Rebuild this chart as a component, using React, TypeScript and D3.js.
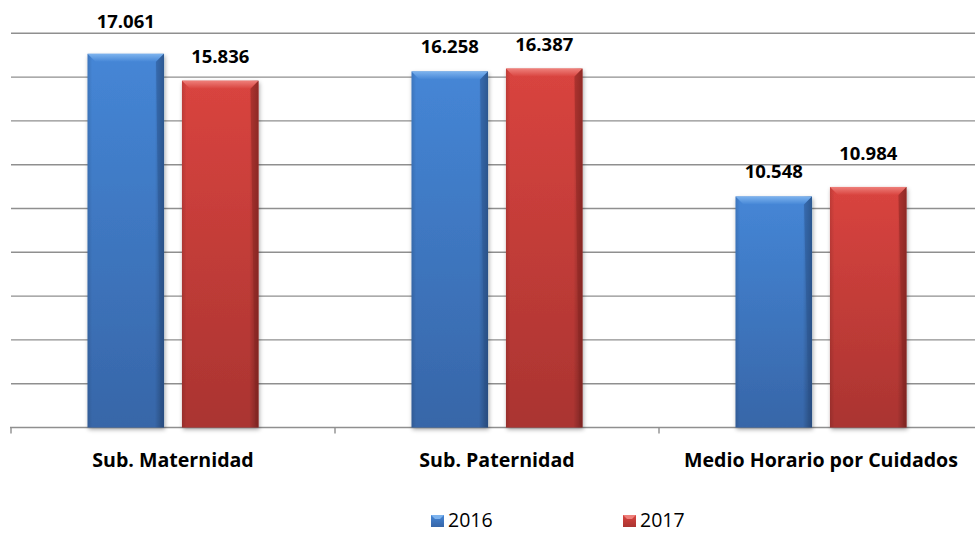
import React from "react";
import * as d3 from "d3";

const categories = ["Sub. Maternidad", "Sub. Paternidad", "Medio Horario por Cuidados"];
const seriesNames = ["2016", "2017"];
const values2016 = [17.061, 16.258, 10.548];
const values2017 = [15.836, 16.387, 10.984];
const valueLabels2016 = ["17.061", "16.258", "10.548"];
const valueLabels2017 = ["15.836", "16.387", "10.984"];
const gridTicks = [2, 4, 6, 8, 10, 12, 14, 16, 18];

const W = 975;
const H = 533;
const FONT = "'Open Sans', 'DejaVu Sans', sans-serif";

const palette: Record<string, { light: string; top: string; bottom: string; edge: string }> = {
  "2016": { light: "#7db3ee", top: "#4586d6", bottom: "#3766a8", edge: "#2a528c" },
  "2017": { light: "#ee7f7a", top: "#d9443f", bottom: "#aa3431", edge: "#85231f" },
};

export default function App() {
  const baseY = 427.5;
  const topY = 33.3;
  const y = d3.scaleLinear().domain([0, 18]).range([baseY, topY]);
  const x0 = d3.scaleBand<string>().domain(categories).range([11, 983]).paddingInner(0).paddingOuter(0);
  const x1 = d3
    .scaleBand<string>()
    .domain(seriesNames)
    .range([0, x0.bandwidth()])
    .paddingInner(0.19)
    .paddingOuter(0.81);

  const seriesVals: Record<string, number[]> = { "2016": values2016, "2017": values2017 };
  const seriesLabels: Record<string, string[]> = { "2016": valueLabels2016, "2017": valueLabels2017 };
  const gridYs = gridTicks.map((t) => y(t));

  const labelBaseline = (top: number) => {
    let b = top - 18;
    const capH = 13;
    const hit = gridYs.find((g) => g >= b - capH + 1 && g <= b + 2);
    if (hit !== undefined) b = hit - 5;
    return b;
  };

  const bevel = 8;

  return (
    <svg
      width={W}
      height={H}
      viewBox={`0 0 ${W} ${H}`}
      style={{ position: "absolute", left: 0, top: 0, background: "#fff" }}
    >
      <defs>
        {seriesNames.map((s) => (
          <React.Fragment key={s}>
            <linearGradient id={`v-${s}`} x1="0" y1="0" x2="0" y2="1">
              <stop offset="0%" stopColor={palette[s].top} />
              <stop offset="100%" stopColor={palette[s].bottom} />
            </linearGradient>
            <linearGradient id={`h-${s}`} x1="0" y1="0" x2="1" y2="0">
              <stop offset="0%" stopColor="#000" stopOpacity={0.12} />
              <stop offset="6%" stopColor="#000" stopOpacity={0} />
              <stop offset="88%" stopColor="#000" stopOpacity={0} />
              <stop offset="100%" stopColor="#000" stopOpacity={0.3} />
            </linearGradient>
            <linearGradient id={`t-${s}`} x1="0" y1="0" x2="0" y2="1">
              <stop offset="0%" stopColor={palette[s].light} />
              <stop offset="100%" stopColor={palette[s].top} />
            </linearGradient>
          </React.Fragment>
        ))}
        <filter id="shadow" x="-20%" y="-5%" width="140%" height="115%">
          <feDropShadow dx="1" dy="2" stdDeviation="2" floodColor="#000" floodOpacity="0.35" />
        </filter>
      </defs>

      {gridYs.map((g, i) => (
        <line key={i} x1={11} x2={W} y1={g} y2={g} stroke="#8f8f8f" strokeWidth={1.4} />
      ))}
      <line x1={10} x2={W} y1={baseY} y2={baseY} stroke="#8f8f8f" strokeWidth={1.4} />
      {[...categories.map((c) => x0(c)!), 983].map((tx, i) => (
        <line key={i} x1={tx} x2={tx} y1={baseY} y2={baseY + 6} stroke="#8f8f8f" strokeWidth={1.4} />
      ))}

      {categories.map((c, ci) => (
        <g key={c} transform={`translate(${x0(c)},0)`}>
          {seriesNames.map((s) => {
            const v = seriesVals[s][ci];
            const bx = x1(s)!;
            const bw = x1.bandwidth();
            const by = y(v);
            const bh = baseY - by;
            return (
              <g key={s}>
                <rect x={bx} y={by} width={bw} height={bh} fill={`url(#v-${s})`} filter="url(#shadow)" />
                <rect x={bx} y={by} width={bw} height={bh} fill={`url(#h-${s})`} />
                <polygon
                  points={`${bx},${by} ${bx + bw},${by} ${bx + bw - bevel},${by + bevel} ${bx + bevel},${by + bevel}`}
                  fill={`url(#t-${s})`}
                />
                <polygon
                  points={`${bx + bw},${by} ${bx + bw},${baseY} ${bx + bw - 3},${baseY - 3} ${bx + bw - bevel},${by + bevel}`}
                  fill={palette[s].edge}
                  opacity={0.45}
                />
                <text
                  x={bx + bw / 2}
                  y={labelBaseline(by)}
                  textAnchor="middle"
                  fontFamily={FONT}
                  fontWeight={700}
                  fontSize={18.5}
                  fill="#000"
                >
                  {seriesLabels[s][ci]}
                </text>
              </g>
            );
          })}
          <text
            x={x0.bandwidth() / 2}
            y={467}
            textAnchor="middle"
            fontFamily={FONT}
            fontWeight={700}
            fontSize={19.6}
            fill="#000"
          >
            {c}
          </text>
        </g>
      ))}

      {seriesNames.map((s, i) => {
        const lx = [431, 623][i];
        return (
          <g key={s}>
            <rect x={lx} y={515} width={13} height={12} fill={`url(#v-${s})`} />
            <polygon points={`${lx},515 ${lx + 13},515 ${lx + 9},519 ${lx + 4},519`} fill={palette[s].light} />
            <text x={lx + 17} y={527} fontFamily={FONT} fontSize={19.5} fill="#000">
              {s}
            </text>
          </g>
        );
      })}
    </svg>
  );
}
